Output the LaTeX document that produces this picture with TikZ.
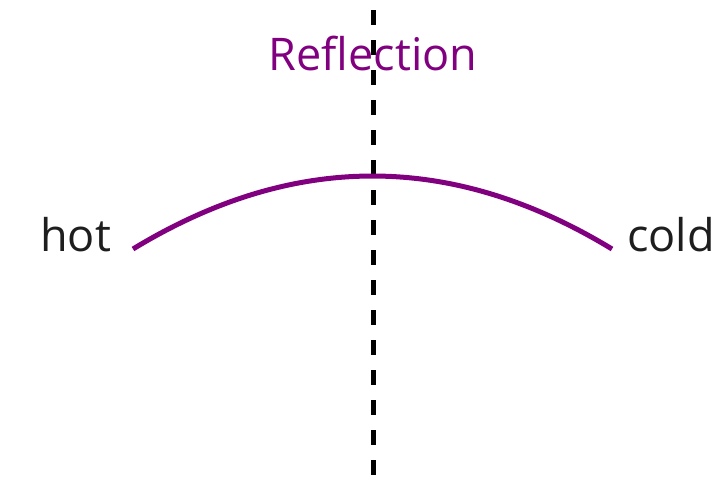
\documentclass[tikz,border=0pt]{standalone}
\usepackage{fontspec}
\setmainfont{Open Sans}
\usetikzlibrary{positioning}
\definecolor{reflpurple}{RGB}{128,0,128}
\definecolor{labelgray}{RGB}{30,30,30}

\begin{document}
\begin{tikzpicture}[x=1pt, y=-1pt,
  label/.style={inner sep=0pt, font=\fontsize{45}{54}\selectfont, text=labelgray}]
\useasboundingbox (0,0) rectangle (719,479);
\coordinate (axistop) at (373,10);
\coordinate (axisbot) at (373,479);
\coordinate (hotend) at (133,249);
\coordinate (coldend) at (612,249);
\coordinate (bendl) at (293,151.7);
\coordinate (bendr) at (452,151.7);
\draw[line width=5pt, dash pattern=on 15pt off 15pt] (axistop) -- (axisbot);
\draw[reflpurple, line width=5pt] (hotend) .. controls (bendl) and (bendr) .. (coldend);
\node[label, text=reflpurple, anchor=base] (refl) at (373,70) {Reflection};
\node[label, anchor=base west] (hot) at (40,251) {hot};
\node[label, anchor=base east] (cold) at (715,251) {cold};
\end{tikzpicture}
\end{document}
